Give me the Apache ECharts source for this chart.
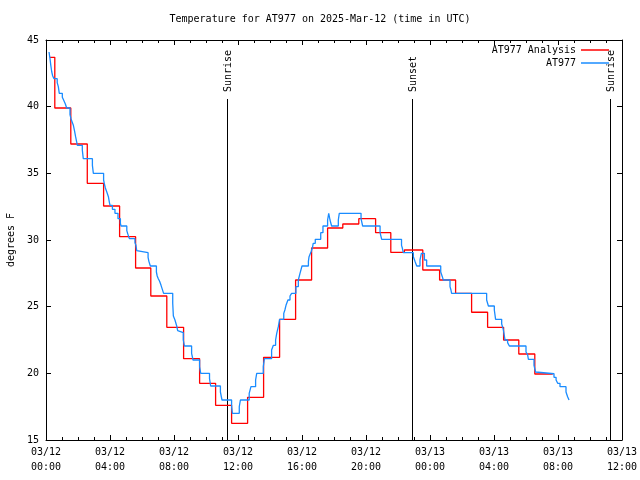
<!DOCTYPE html>
<html>
<head>
<meta charset="utf-8">
<script src="https://cdn.jsdelivr.net/npm/echarts@6/dist/echarts.min.js"></script>
<style>html,body{margin:0;padding:0;background:#fff;}#c{width:640px;height:480px;}</style>
</head>
<body>
<div id="c"></div>
<script>
// hours since 03/12 00:00 UTC, value (deg F); value holds until the next point
var analysisSeries = [[0.25,43.7],[0.55,39.9],[1.55,37.2],[2.58,34.25],[3.6,32.55],[4.6,30.25],[5.6,27.9],[6.55,25.8],[7.55,23.45],[8.6,21.1],[9.6,19.25],[10.6,17.6],[11.6,16.25],[12.6,18.2],[13.6,21.2],[14.6,24.05],[15.6,27.0],[16.6,29.4],[17.6,30.9],[18.55,31.2],[19.55,31.6],[20.6,30.55],[21.55,29.07],[22.4,29.25],[23.55,27.75],[24.6,27.0],[25.6,26.0],[26.6,24.58],[27.6,23.45],[28.6,22.5],[29.55,21.45],[30.55,19.95],[31.67,19.95]];

var observedSeries = [[0.19,44.1],[0.25,43.6],[0.3,43.1],[0.36,42.6],[0.42,42.3],[0.5,42.1],[0.7,41.8],[0.77,41.5],[0.83,41.0],[1.02,40.7],[1.1,40.5],[1.21,40.2],[1.29,39.9],[1.5,39.4],[1.56,39.1],[1.65,38.8],[1.71,38.6],[1.78,38.2],[1.85,37.75],[1.96,37.1],[2.27,36.75],[2.33,36.1],[2.9,35.6],[2.96,35.0],[3.6,34.5],[3.65,34.2],[3.71,33.9],[3.8,33.6],[3.9,33.25],[3.95,32.9],[4.0,32.6],[4.15,32.3],[4.31,32.0],[4.5,31.6],[4.65,31.25],[4.69,31.05],[5.05,30.7],[5.1,30.5],[5.21,30.1],[5.56,29.8],[5.62,29.6],[5.67,29.2],[5.73,29.05],[6.38,28.7],[6.43,28.4],[6.52,28.05],[6.9,27.6],[6.95,27.3],[7.02,27.1],[7.1,26.9],[7.19,26.6],[7.27,26.3],[7.35,26.0],[7.92,25.25],[7.96,24.3],[8.06,24.0],[8.17,23.55],[8.23,23.2],[8.33,23.05],[8.58,22.5],[8.65,22.05],[9.1,21.5],[9.19,21.0],[9.6,20.5],[9.67,20.0],[10.22,19.6],[10.29,19.05],[10.9,18.6],[11.0,18.0],[11.6,17.5],[11.65,17.0],[12.08,17.5],[12.15,18.0],[12.7,18.5],[12.81,19.0],[13.1,19.5],[13.17,20.0],[13.58,20.5],[13.65,21.1],[14.1,21.75],[14.21,22.1],[14.35,22.5],[14.42,23.0],[14.52,23.5],[14.6,24.05],[14.86,24.5],[14.93,24.75],[15.0,25.1],[15.12,25.5],[15.25,25.8],[15.35,26.0],[15.62,26.5],[15.77,27.0],[15.875,27.5],[16.0,28.05],[16.4,28.4],[16.44,28.75],[16.56,29.1],[16.65,29.4],[16.7,29.75],[16.83,30.05],[17.17,30.55],[17.31,31.05],[17.6,31.5],[17.67,32.0],[17.75,31.5],[17.85,31.05],[18.27,31.5],[18.33,32.0],[19.69,31.6],[19.79,31.05],[20.88,30.55],[20.98,30.05],[22.22,29.6],[22.27,29.4],[22.33,29.05],[22.96,28.75],[23.06,28.4],[23.17,28.05],[23.375,28.5],[23.46,29.0],[23.65,28.5],[23.79,28.05],[24.67,27.6],[24.77,27.25],[24.83,27.0],[25.25,26.5],[25.31,26.25],[25.35,26.0],[27.54,25.5],[27.65,25.05],[28.02,24.75],[28.1,24.05],[28.48,23.7],[28.58,23.3],[28.69,22.5],[28.85,22.3],[28.96,22.05],[30.0,21.6],[30.1,21.4],[30.15,21.05],[30.5,20.6],[30.6,20.1],[30.67,19.97],[31.75,19.7],[31.88,19.5],[31.98,19.25],[32.125,19.0],[32.5,18.6],[32.6,18.25],[32.69,18.0]];

var sunTimes = [11.31, 22.89, 35.25];
var sunLabels = ['Sunrise', 'Sunset', 'Sunrise'];

var xTickLabels = ['03/12\n00:00','03/12\n04:00','03/12\n08:00','03/12\n12:00','03/12\n16:00','03/12\n20:00','03/13\n00:00','03/13\n04:00','03/13\n08:00','03/13\n12:00'];
var yTicks = [15, 20, 25, 30, 35, 40, 45];

var FONT = '"DejaVu Sans Mono", "Liberation Mono", monospace';
var chart = echarts.init(document.getElementById('c'), null, {renderer: 'canvas'});

function xAxisDef(pos, showLabel) {
  return {
    type: 'value', position: pos, min: 0, max: 36, interval: 4,
    axisLine: {show: true, onZero: false, lineStyle: {color: '#000', width: 1}},
    axisTick: {show: true, inside: true, length: 5, lineStyle: {color: '#000'}},
    minorTick: {show: true, splitNumber: 4, length: 3, lineStyle: {color: '#000'}},
    splitLine: {show: false}, minorSplitLine: {show: false},
    axisLabel: {show: showLabel, margin: 5, color: '#000', fontFamily: FONT, fontSize: 10, lineHeight: 15,
      formatter: function (v) { return xTickLabels[Math.round(v / 4)]; }}
  };
}
function yAxisDef(pos, showLabel, withName) {
  var a = {
    type: 'value', position: pos, min: yTicks[0], max: yTicks[yTicks.length - 1], interval: 5,
    axisLine: {show: true, onZero: false, lineStyle: {color: '#000', width: 1}},
    axisTick: {show: true, inside: true, length: 5, lineStyle: {color: '#000'}},
    splitLine: {show: false},
    axisLabel: {show: showLabel, margin: 7, color: '#000', fontFamily: FONT, fontSize: 10}
  };
  if (withName) {
    a.name = 'degrees F';
    a.nameLocation = 'middle';
    a.nameRotate = 90;
    a.nameGap = 30;
    a.nameTextStyle = {color: '#000', fontFamily: FONT, fontSize: 10};
  }
  return a;
}

var option = {
  animation: false,
  backgroundColor: '#fff',
  title: {
    text: 'Temperature for AT977 on 2025-Mar-12 (time in UTC)',
    left: 'center', top: 9,
    textStyle: {color: '#000', fontFamily: FONT, fontSize: 10, fontWeight: 'normal'}
  },
  legend: {
    orient: 'vertical', right: 26, top: 39, align: 'right',
    icon: 'rect', itemWidth: 28, itemHeight: 1.5, itemGap: 1,
    textStyle: {color: '#000', fontFamily: FONT, fontSize: 10, lineHeight: 12},
    data: ['AT977 Analysis', 'AT977']
  },
  grid: {left: 46, top: 40, width: 576, height: 400, containLabel: false, outerBoundsMode: 'none'},
  xAxis: [xAxisDef('bottom', true), xAxisDef('top', false)],
  yAxis: [yAxisDef('left', true, true), yAxisDef('right', false, false)],
  series: [
    {
      name: 'AT977 Analysis', type: 'line', step: 'end', showSymbol: false, symbol: 'none',
      data: analysisSeries, color: '#ff0000', lineStyle: {color: '#ff0000', width: 1.3}, z: 3
    },
    {
      name: 'AT977', type: 'line', step: 'end', showSymbol: false, symbol: 'none',
      data: observedSeries, color: '#1a8cff', lineStyle: {color: '#1a8cff', width: 1.3}, z: 4
    },
    {
      name: 'sun', type: 'custom', silent: true, z: 2,
      data: sunTimes.map(function (t) { return [t, yTicks[0]]; }),
      encode: {x: 0, y: 1},
      renderItem: function (params, api) {
        var p = api.coord([api.value(0), yTicks[0]]);
        var top = api.coord([api.value(0), yTicks[yTicks.length - 1]]);
        var x = Math.round(p[0]) + 0.5;
        var lineTop = top[1] + 59;
        return {
          type: 'group',
          children: [
            {type: 'line', shape: {x1: x, y1: p[1], x2: x, y2: lineTop},
             style: {stroke: '#000', lineWidth: 1}},
            {type: 'text', x: x + 1, y: lineTop - 7, rotation: Math.PI / 2,
             style: {text: sunLabels[params.dataIndex], textAlign: 'left', textVerticalAlign: 'middle',
                     font: '10px ' + FONT, fill: '#000'}}
          ]
        };
      }
    }
  ]
};
chart.setOption(option);
</script>
</body>
</html>
